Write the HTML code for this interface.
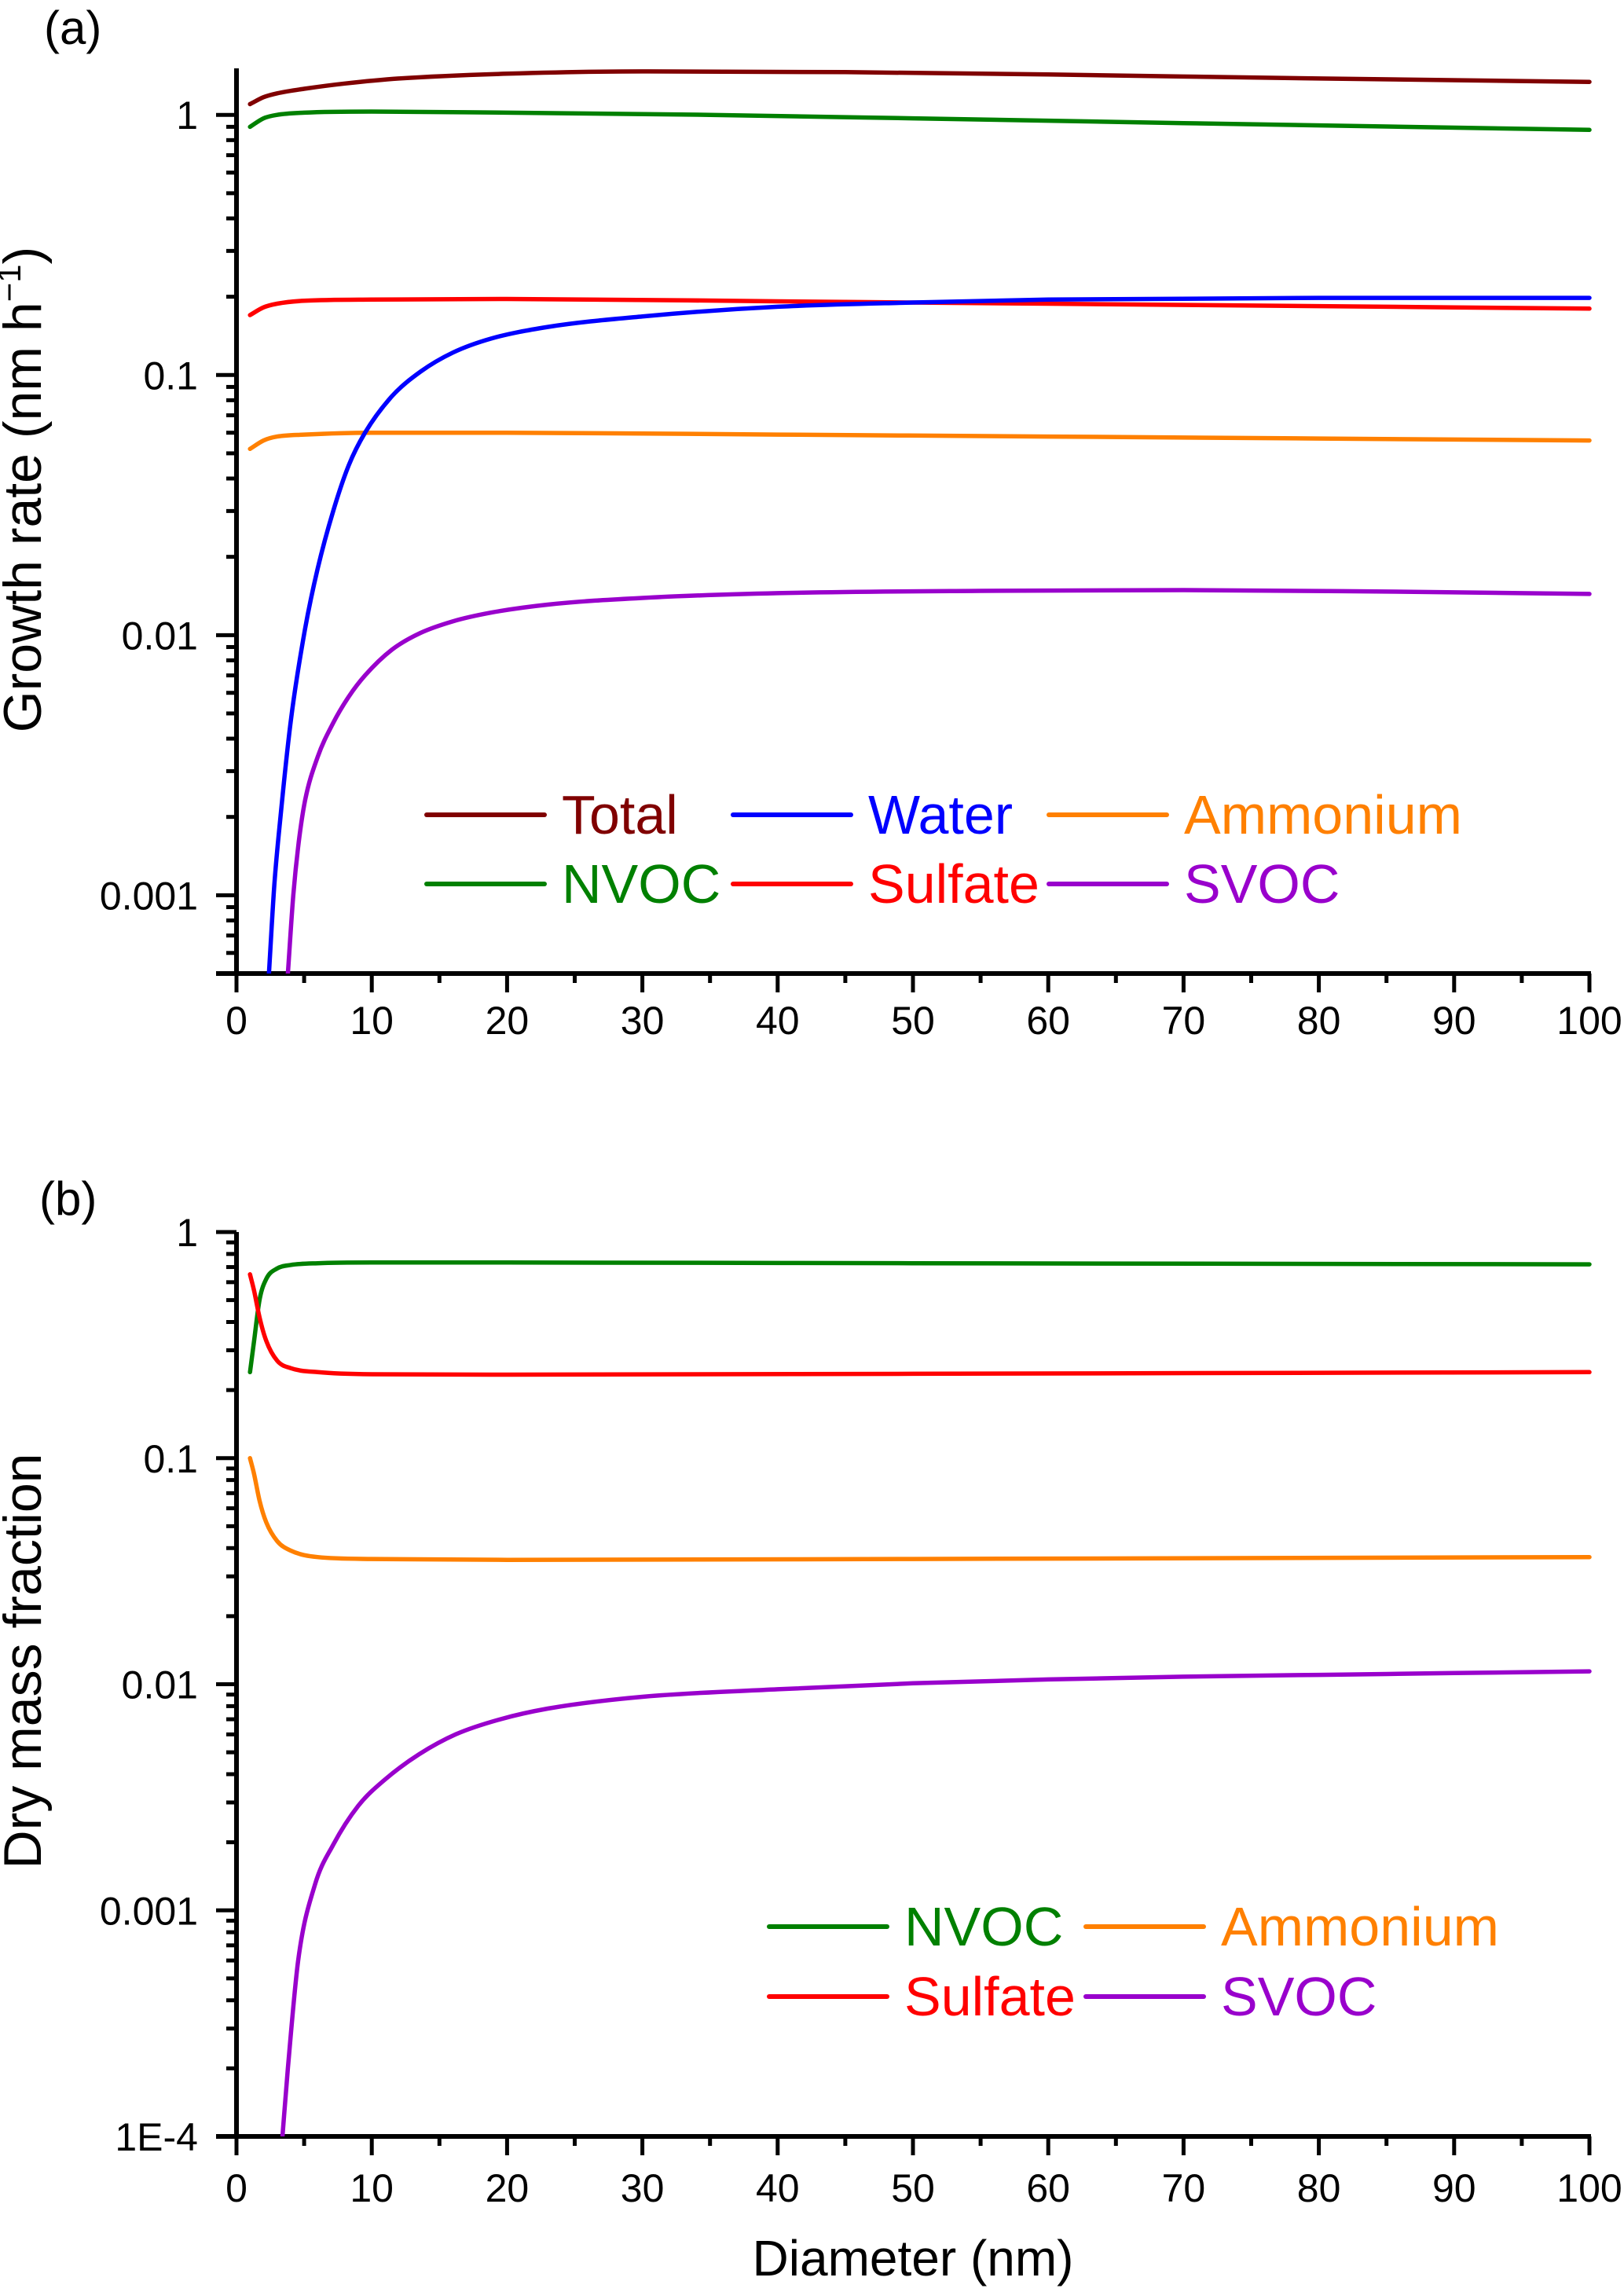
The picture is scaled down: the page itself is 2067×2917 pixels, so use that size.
<!DOCTYPE html>
<html><head><meta charset="utf-8"><style>
html,body{margin:0;padding:0;background:#fff;}
svg{display:block;font-family:"Liberation Sans",Arial,sans-serif;}
</style></head><body>
<svg id="fig" width="2067" height="2917" viewBox="0 0 2067 2917" xmlns="http://www.w3.org/2000/svg">
<text x="56" y="56" font-size="60">(a)</text>
<text x="50" y="1546" font-size="60">(b)</text>
<text transform="translate(52,623) rotate(-90)" text-anchor="middle" font-size="68">Growth rate (nm h<tspan font-size="42" dy="-26">−1</tspan><tspan dy="26">)</tspan></text>
<text transform="translate(52,2114) rotate(-90)" text-anchor="middle" font-size="68">Dry mass fraction</text>
<text x="1162" y="2896" text-anchor="middle" font-size="64">Diameter (nm)</text>
<g id="pa"></g>
<g id="pb"></g>
</svg>
<script>
// ---- data ----
const xTicks = [0,10,20,30,40,50,60,70,80,90,100];
const aYTicks = [0.001,0.01,0.1,1];
const aYTickLabels = ["0.001","0.01","0.1","1"];
const bYTicks = [0.0001,0.001,0.01,0.1,1];
const bYTickLabels = ["1E-4","0.001","0.01","0.1","1"];

const aTotalX = [1,2,3,5,8,12,20,30,45,60,80,100];
const aTotalY = [1.10,1.17,1.21,1.26,1.32,1.38,1.44,1.47,1.46,1.43,1.38,1.34];
const aNvocX = [1,2,3,5,10,20,35,50,70,100];
const aNvocY = [0.90,0.97,1.0,1.02,1.03,1.02,1.0,0.97,0.93,0.876];
const aSulfX = [1,2,3,5,10,20,40,60,80,100];
const aSulfY = [0.17,0.182,0.188,0.193,0.195,0.196,0.192,0.188,0.184,0.18];
const aAmmX = [1,2,3,5,10,20,40,60,80,100];
const aAmmY = [0.052,0.056,0.058,0.059,0.06,0.06,0.059,0.058,0.057,0.056];
const aWaterX = [2.4,2.8,3.25,4.04,5.06,6,7.15,8.3,9.5,11.5,13.6,16,18.8,23,30,40,50,60,80,100];
const aWaterY = [0.0005,0.0011,0.002,0.0048,0.0105,0.018,0.03,0.045,0.06,0.083,0.103,0.122,0.138,0.153,0.168,0.183,0.19,0.195,0.198,0.198];
const aSvocX = [3.8,4.2,4.6,5.06,6,7.15,8.3,9.5,11.5,13.6,16,18.8,23,30,40,55,70,85,100];
const aSvocY = [0.0005,0.001,0.0016,0.0023,0.0034,0.0046,0.0058,0.007,0.0088,0.0102,0.0113,0.0122,0.0131,0.0139,0.0145,0.0148,0.0149,0.0147,0.0144];

const bNvocX = [1,1.3,1.7,2.2,3,4,6,10,20,50,100];
const bNvocY = [0.24,0.33,0.5,0.62,0.69,0.715,0.728,0.733,0.733,0.728,0.72];
const bSulfX = [1,1.3,1.7,2.2,3,4,6,10,20,50,100];
const bSulfY = [0.65,0.55,0.42,0.33,0.27,0.25,0.24,0.235,0.234,0.236,0.24];
const bAmmX = [1,1.3,1.7,2.2,3,4,6,10,20,50,100];
const bAmmY = [0.1,0.085,0.065,0.052,0.043,0.039,0.0365,0.0358,0.0355,0.0358,0.0365];
const bSvocX = [3.4,3.8,4.56,5.8,7.15,9,11,13.5,16.2,19.5,23,30,40,50,60,70,80,90,100];
const bSvocY = [0.0001,0.0002,0.0006,0.0013,0.00195,0.0029,0.0038,0.0049,0.006,0.0070,0.0078,0.0088,0.0095,0.0101,0.0105,0.0108,0.011,0.0112,0.0114];

const legA = ["Total","Water","Ammonium","NVOC","Sulfate","SVOC"];
const legB = ["NVOC","Ammonium","Sulfate","SVOC"];
const colors = {Total:"#800000",NVOC:"#008000",Water:"#0000ff",Sulfate:"#ff0000",Ammonium:"#ff8000",SVOC:"#9900cc"};

// ---- helpers ----
const NS="http://www.w3.org/2000/svg";
function mk(parent,tag,attrs){const e=document.createElementNS(NS,tag);for(const k in attrs)e.setAttribute(k,attrs[k]);parent.appendChild(e);return e;}
const X0=301,X1=2023;
function xs(v){return X0+(v/100)*(X1-X0);}
function makeY(top,bottom,ymin,ymax){return v=>bottom-(Math.log10(v)-Math.log10(ymin))/(Math.log10(ymax)-Math.log10(ymin))*(bottom-top);}

// monotone cubic (Fritsch-Carlson) in pixel space
function pathFrom(xa,ya,ys){
  const px=xa.map(xs), py=ya.map(ys), n=px.length;
  const d=[],m=new Array(n);
  for(let i=0;i<n-1;i++)d.push((py[i+1]-py[i])/(px[i+1]-px[i]));
  m[0]=d[0];m[n-1]=d[n-2];
  for(let i=1;i<n-1;i++){m[i]=(d[i-1]*d[i]<=0)?0:(d[i-1]+d[i])/2;}
  for(let i=0;i<n-1;i++){
    if(d[i]===0){m[i]=0;m[i+1]=0;continue;}
    const a=m[i]/d[i],b=m[i+1]/d[i],s=a*a+b*b;
    if(s>9){const t=3/Math.sqrt(s);m[i]=t*a*d[i];m[i+1]=t*b*d[i];}
  }
  let s="M"+px[0].toFixed(1)+","+py[0].toFixed(1);
  for(let i=0;i<n-1;i++){
    const h=(px[i+1]-px[i])/3;
    s+=" C"+(px[i]+h).toFixed(1)+","+(py[i]+m[i]*h).toFixed(1)+" "+(px[i+1]-h).toFixed(1)+","+(py[i+1]-m[i+1]*h).toFixed(1)+" "+px[i+1].toFixed(1)+","+py[i+1].toFixed(1);
  }
  return s;
}

function axes(g,top,bottom,ys,ymin,ymax,ticks,labels,xLabelY,pfx){
  for(let e=Math.floor(Math.log10(ymin));e<=Math.ceil(Math.log10(ymax));e++){
    for(let m=2;m<=9;m++){const v=m*Math.pow(10,e);if(v<ymin||v>ymax)continue;
      const t=mk(g,"line",{x1:X0-13,x2:X0,y1:ys(v),y2:ys(v),stroke:"#000","stroke-width":5});
      
      }
  }
  ticks.forEach((v,i)=>{
    const t=mk(g,"line",{x1:X0-26,x2:X0,y1:ys(v),y2:ys(v),stroke:"#000","stroke-width":5});
    
    
    const l=mk(g,"text",{x:252,y:ys(v)+18,"text-anchor":"end","font-size":50});
    l.textContent=labels[i];
    
    
  });
  xTicks.forEach(v=>{
    const t=mk(g,"line",{x1:xs(v),x2:xs(v),y1:bottom,y2:bottom+24,stroke:"#000","stroke-width":5});
    
    
    const l=mk(g,"text",{x:xs(v),y:xLabelY,"text-anchor":"middle","font-size":50});
    l.textContent=String(v);
    
    
    if(v<100){const m=mk(g,"line",{x1:xs(v+5),x2:xs(v+5),y1:bottom,y2:bottom+12,stroke:"#000","stroke-width":5});
      
      }
  });
  const ya=mk(g,"line",{x1:X0,x2:X0,y1:top,y2:bottom+2,stroke:"#000","stroke-width":6});
  
  
  const xa=mk(g,"line",{x1:X0-26,x2:X1+2,y1:bottom,y2:bottom,stroke:"#000","stroke-width":6});
  
  
}

function series(g,xa,ya,ys,name,clipId,pfx){
  const p=mk(g,"path",{d:pathFrom(xa,ya,ys),fill:"none",stroke:colors[name],"stroke-width":5.5,"stroke-linecap":"round","clip-path":"url(#"+clipId+")"});
  
  
}

function legend(g,items,x0,y0,colW,rowH,lineLen,textGap,cols,pfx){
  items.forEach((n,i)=>{
    const c=i%cols,r=Math.floor(i/cols);
    const x=x0+colW[c],y=y0+r*rowH;
    const l=mk(g,"line",{x1:x,x2:x+lineLen,y1:y,y2:y,stroke:colors[n],"stroke-width":6,"stroke-linecap":"round"});
    
    
    const t=mk(g,"text",{x:x+lineLen+textGap,y:y+24,fill:colors[n],"font-size":70});
    t.textContent=n;
    
    
  });
}

const svg=document.getElementById("fig");
const defs=mk(svg,"defs",{});
// Panel A
const aTop=87,aBot=1239,aMin=0.0005,aMax=1.51;
const yA=makeY(aTop,aBot,aMin,aMax);
const cpA=mk(defs,"clipPath",{id:"clipA"});mk(cpA,"rect",{x:X0,y:aTop,width:X1-X0+10,height:aBot-aTop});
const gA=document.getElementById("pa");
axes(gA,aTop,aBot,yA,aMin,aMax,aYTicks,aYTickLabels,1316,"a-");
series(gA,aTotalX,aTotalY,yA,"Total","clipA","a-");
series(gA,aNvocX,aNvocY,yA,"NVOC","clipA","a-");
series(gA,aSulfX,aSulfY,yA,"Sulfate","clipA","a-");
series(gA,aAmmX,aAmmY,yA,"Ammonium","clipA","a-");
series(gA,aWaterX,aWaterY,yA,"Water","clipA","a-");
series(gA,aSvocX,aSvocY,yA,"SVOC","clipA","a-");
legend(gA,legA,543,1037,[0,390,792],88,150,22,3,"a-");
// Panel B
const bTop=1568,bBot=2719,bMin=0.0001,bMax=1;
const yB=makeY(bTop,bBot,bMin,bMax);
const cpB=mk(defs,"clipPath",{id:"clipB"});mk(cpB,"rect",{x:X0,y:bTop-20,width:X1-X0+10,height:bBot-bTop+20});
const gB=document.getElementById("pb");
axes(gB,bTop,bBot,yB,bMin,bMax,bYTicks,bYTickLabels,2802,"b-");
series(gB,bNvocX,bNvocY,yB,"NVOC","clipB","b-");
series(gB,bSulfX,bSulfY,yB,"Sulfate","clipB","b-");
series(gB,bAmmX,bAmmY,yB,"Ammonium","clipB","b-");
series(gB,bSvocX,bSvocY,yB,"SVOC","clipB","b-");
legend(gB,legB,979,2452,[0,403],89,150,22,2,"b-");
</script>
</body></html>
